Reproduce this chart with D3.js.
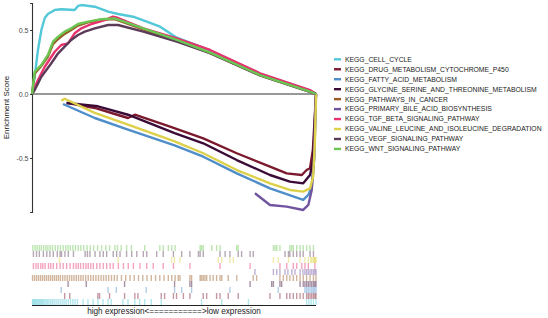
<!DOCTYPE html>
<html>
<head>
<meta charset="utf-8">
<script src="https://cdn.jsdelivr.net/npm/d3@7"></script>
<style>
  body { margin: 0; background: #fff; }
  svg { display: block; font-family: "Liberation Sans", Arial, sans-serif; }
</style>
</head>
<body>
<div id="container"></div>
<script>
// gene set names, in legend order
const setNames = [
  "KEGG_CELL_CYCLE",
  "KEGG_DRUG_METABOLISM_CYTOCHROME_P450",
  "KEGG_FATTY_ACID_METABOLISM",
  "KEGG_GLYCINE_SERINE_AND_THREONINE_METABOLISM",
  "KEGG_PATHWAYS_IN_CANCER",
  "KEGG_PRIMARY_BILE_ACID_BIOSYNTHESIS",
  "KEGG_TGF_BETA_SIGNALING_PATHWAY",
  "KEGG_VALINE_LEUCINE_AND_ISOLEUCINE_DEGRADATION",
  "KEGG_VEGF_SIGNALING_PATHWAY",
  "KEGG_WNT_SIGNALING_PATHWAY"
];
const setColors = ["#52c8d8", "#7b1a2e", "#4f8ec9", "#3b0b37", "#9a5b23",
                   "#7154a0", "#e7326e", "#ddd04a", "#5c3b58", "#6bc653"];

const yTicks = [-0.5, 0, 0.5];
const xLabel = "high expression<===========>low expression";
const yLabel = "Enrichment Score";

// running enrichment score: [rank position in % of ranked list, ES]
const cellCycleES = [[0,0],[0.95,0.135],[2.1,0.344],[3.3,0.5],[4.5,0.594],[5.6,0.625],[8,0.656],[10.3,0.662],
  [15,0.656],[16.2,0.688],[17.4,0.695],[22.1,0.682],[26.8,0.643],[30.3,0.625],[35.6,0.604],[40.4,0.565],
  [45.1,0.526],[51,0.44],[62.7,0.34],[80.3,0.158],[97.9,0.028],[100,0]];
const drugES = [[12.7,-0.07],[22.1,-0.109],[30.3,-0.164],[33.8,-0.1875],[36.2,-0.162],[48.6,-0.255],
  [60.3,-0.346],[72.1,-0.463],[83.8,-0.568],[89.7,-0.62],[95,-0.633],[96.7,-0.594],[97.9,-0.58],
  [98.9,-0.4375],[99.6,-0.164],[100,0]];
const fattyES = [[10.9,-0.078],[22.1,-0.1875],[33.8,-0.279],[50.2,-0.401],[60.3,-0.49],[72.1,-0.62],
  [83.8,-0.737],[95.5,-0.828],[97.3,-0.789],[98.5,-0.724],[99.3,-0.516],[99.8,-0.2],[100,0]];
const glycineES = [[12.1,-0.07],[23.2,-0.096],[33.8,-0.162],[50.2,-0.305],[60.3,-0.385],[72.1,-0.516],
  [83.8,-0.633],[90.8,-0.685],[95.5,-0.698],[97.9,-0.633],[99,-0.516],[99.6,-0.2],[100,0]];
const cancerES = [[0,0],[0.95,0.16],[3.3,0.22],[5.6,0.29],[7.4,0.39],[9.2,0.43],[11.5,0.47],[13.8,0.5],
  [16.2,0.535],[19.7,0.56],[24.4,0.58],[29.1,0.585],[39.2,0.505],[51,0.418],[62.7,0.32],[80.3,0.146],
  [97.9,0.017],[100,0]];
const bileES = [[78.5,-0.776],[83.8,-0.867],[89.7,-0.88],[95.5,-0.906],[97.3,-0.867],[98.5,-0.75],
  [99.3,-0.516],[99.8,-0.125],[100,0]];
const tgfES = [[0,0],[0.35,0.018],[2.1,0.109],[4.5,0.213],[8,0.33],[10.3,0.383],[12.7,0.396],[15,0.474],
  [17.4,0.513],[20.9,0.547],[25.6,0.578],[28.5,0.604],[29.7,0.599],[39.2,0.513],[51,0.435],[62.7,0.344],
  [80.3,0.162],[97.9,0.031],[100,0]];
const valineES = [[10.3,-0.052],[11.5,-0.037],[22.1,-0.148],[33.8,-0.24],[50.2,-0.37],[60.3,-0.463],
  [72.1,-0.594],[83.8,-0.698],[90.8,-0.75],[95.5,-0.763],[97.9,-0.737],[99,-0.646],[99.6,-0.383],
  [99.9,-0.125],[100,0]];
const vegfES = [[0,0],[0.95,0.031],[3.3,0.135],[6.8,0.24],[9.2,0.318],[11.5,0.37],[13.8,0.422],[16.2,0.461],
  [18.6,0.487],[22.1,0.513],[26.8,0.539],[30.3,0.539],[39.2,0.487],[51,0.409],[62.7,0.32],[80.3,0.145],
  [97.9,0.016],[100,0]];
const wntES = [[0,0],[0.2,0.03],[0.95,0.174],[3.3,0.227],[5.6,0.305],[7.4,0.409],[9.2,0.448],[11.5,0.487],
  [13.8,0.513],[16.2,0.547],[19.7,0.565],[24.4,0.584],[29.1,0.591],[39.2,0.513],[51,0.422],[62.7,0.323],
  [80.3,0.148],[97.9,0.018],[100,0]];

// gene hit positions (% of ranked list)
const cellCycleHits = [0.2,0.5,0.9,1.2,1.6,2,2.4,2.8,3.2,3.6,4,4.5,5,5.5,6,6.6,7.2,7.8,8.5,9.2,9.9,10.6,11.3,
  12,12.8,13.6,14.4,15.2,16,18,19.7,21.5,23.2,25,26.8,27.9,32,33.8,36.2,37.9,39.7,42,45.5,59.7,66.8,76.2,
  96.7,97.5,98.3,99.1,100];
const drugHits = [11.5,13.3,23.2,23.8,27.3,32.6,36.2,37.3,45.5,46.7,49.8,50.9,53.3,55.6,60.3,61.5,65,66.2,
  69.1,72.6,83.8,87.3,89.7,90.8,92,93.2,94.4,95.5,96.7,97.3,97.9,98.5,99.1,99.6,100];
const fattyHits = [10.3,26.8,29.7,40.2,50.2,52.7,56.2,69.7,86.7,96.1,96.7,97.3,97.9,98.5,99,99.5,100];
const glycineHits = [12.7,19.1,32.6,50.2,55.6,56.2,76.8,84.4,85,87.3,87.9,94.4,95.5,96.1,96.7,97.3,97.9,
  98.5,99.1,99.6,100];
const cancerHits = [0.2,0.9,1.6,2.3,3,3.7,4.4,5.1,5.8,6.5,7.2,7.9,8.6,9.3,10,10.8,11.6,12.4,13.2,14,14.8,
  15.6,16.4,17.2,18,18.9,19.8,20.7,21.6,22.5,23.4,24.3,25.2,26.1,27,28,29,30,31.5,33,34.5,36,37.5,39,40.5,
  42,43.5,45,46.5,48,49.2,50.4,51.5,52.1,55.6,56.2,59.2,59.7,60.3,60.9,61.5,62.7,63.8,65,66.2,66.8,69.1,
  72.1,77.9,79.1,87.3,88.5,89.7,90.8,92,93.2,94.4,95.5,96.7,97.9,99.1,100];
const bileHits = [78.5,85,86.2,87.3,89.1,90.1,91.5,92.6,94.4,95.4,96.1,96.7,97.3,97.9,98.5,99.1,99.6,100];
const tgfHits = [0.5,1.4,2.2,3.1,3.8,4.6,5.8,6.6,7.5,8.7,9.9,11,12.2,13.4,14.6,15.5,16.3,17.1,18.1,19,19.8,
  20.7,21.6,22.8,23.9,25.1,26.3,27.5,28.6,30.4,32.2,33.9,35.7,38,40.4,42.7,46.2,49.8,55.6,66.2,76.8,87.3,
  89.7,92,93.2,95,96.1,97.3,99.6];
const valineHits = [9.7,30.3,49.2,50.2,52.1,65.6,66.8,69.7,70.9,85,86.7,90.3,94.4,96.1,97.3,98.1,98.5,99,
  99.4,99.6,99.8,100];
const vegfHits = [0.5,1.6,2.6,4,5.2,6.3,7.5,8.9,9.9,10.4,11.6,12.8,14.6,18.7,19.5,20.4,22.2,23.9,25.1,26.3,
  28.6,29.8,31,33.3,35.1,36.9,39.2,40.4,43.9,46.2,49.8,52.7,55.6,58.6,59.2,60.3,66.2,68,69.7,72.6,73.8,
  76.8,77.9,89.1,90.3,90.8,92,93.2,94.4,95.5,97.9,99.1];
const wntHits = [0.3,1.1,1.8,2.6,3.3,4.1,4.9,5.6,6.4,7.2,8.2,9.1,10,11,11.9,12.7,13.5,14.4,15.3,16.3,17.2,
  18.2,19.4,20.5,21.7,23.1,24.5,26,27.3,29.2,30.1,31.4,33.3,35,39.7,45,46.2,48,49.2,50.4,59.2,59.7,60.3,
  63.3,65,66.2,72.1,72.6,85,85.6,86.2,87.3,90.8,91.4,92,93.2,94.4,95.5,96.7,97.9,99.1];

const esList = [cellCycleES, drugES, fattyES, glycineES, cancerES, bileES, tgfES, valineES, vegfES, wntES];
const hitList = [cellCycleHits, drugHits, fattyHits, glycineHits, cancerHits, bileHits, tgfHits,
  valineHits, vegfHits, wntHits];

const sets = setNames.map((name, i) => ({
  name, color: setColors[i], es: esList[i], hits: hitList[i]
}));

const width = 548, height = 318;
const svg = d3.select("#container").append("svg")
  .attr("width", width).attr("height", height);

const x = d3.scaleLinear().domain([0, 100]).range([32, 316]);
const y = d3.scaleLinear().domain([-0.922, 0.711]).range([212, 3]);

// zero line
svg.append("line")
  .attr("x1", x(0)).attr("x2", x(100))
  .attr("y1", y(0)).attr("y2", y(0))
  .attr("stroke", "#333").attr("stroke-width", 1.1);

// y axis
const yAxis = svg.append("g")
  .attr("transform", `translate(${x(0)},0)`)
  .call(d3.axisLeft(y).tickValues(yTicks).tickSize(2)
    .tickFormat(d => d3.format(".1f")(d).replace("\u2212", "-")));
yAxis.select(".domain").attr("stroke", "#333").attr("stroke-width", 1.1);
yAxis.selectAll(".tick line").attr("stroke", "#333");
yAxis.selectAll(".tick text")
  .attr("fill", "#4d4d4d").attr("font-size", 7).attr("x", -3.5)
  .attr("font-family", "Liberation Sans, Arial, sans-serif");

svg.append("text")
  .attr("transform", `translate(9,${(y.range()[0] + y.range()[1]) / 2}) rotate(-90)`)
  .attr("text-anchor", "middle")
  .attr("font-size", 8)
  .attr("fill", "#1a1a1a")
  .text(yLabel);

// running score curves
const line = d3.line()
  .x(d => x(d[0]))
  .y(d => y(d[1]));

svg.append("g")
  .attr("fill", "none")
  .attr("stroke-width", 2.4)
  .attr("stroke-linejoin", "round")
  .selectAll("path")
  .data(sets)
  .join("path")
  .attr("stroke", d => d.color)
  .attr("d", d => line(d.es));

// legend
const legend = svg.append("g")
  .selectAll("g")
  .data(sets)
  .join("g")
  .attr("transform", (d, i) => `translate(334,${59.3 + i * 9.96})`);
legend.append("line")
  .attr("x1", 0).attr("x2", 7)
  .attr("stroke", d => d.color).attr("stroke-width", 2.4);
legend.append("text")
  .attr("x", 11).attr("dy", "0.35em")
  .attr("font-size", 6.8)
  .attr("fill", "#1a1a1a")
  .text(d => d.name);

// rug of gene hits, last set on top
const band = d3.scaleBand()
  .domain(setNames.slice().reverse())
  .range([245, 305]);

const rug = svg.append("g");
sets.forEach(s => {
  rug.append("g")
    .selectAll("line")
    .data(s.hits)
    .join("line")
    .attr("x1", d => x(d)).attr("x2", d => x(d))
    .attr("y1", band(s.name))
    .attr("y2", band(s.name) + band.bandwidth())
    .attr("stroke", s.color)
    .attr("stroke-width", 1.4)
    .attr("stroke-opacity", 0.45);
});

svg.append("line")
  .attr("x1", x(0)).attr("x2", x(100))
  .attr("y1", 305.5).attr("y2", 305.5)
  .attr("stroke", "#222").attr("stroke-width", 1.1);

svg.append("text")
  .attr("x", (x(0) + x(100)) / 2)
  .attr("y", 314)
  .attr("text-anchor", "middle")
  .attr("font-size", 8.2)
  .attr("fill", "#1a1a1a")
  .text(xLabel);
</script>
</body>
</html>
